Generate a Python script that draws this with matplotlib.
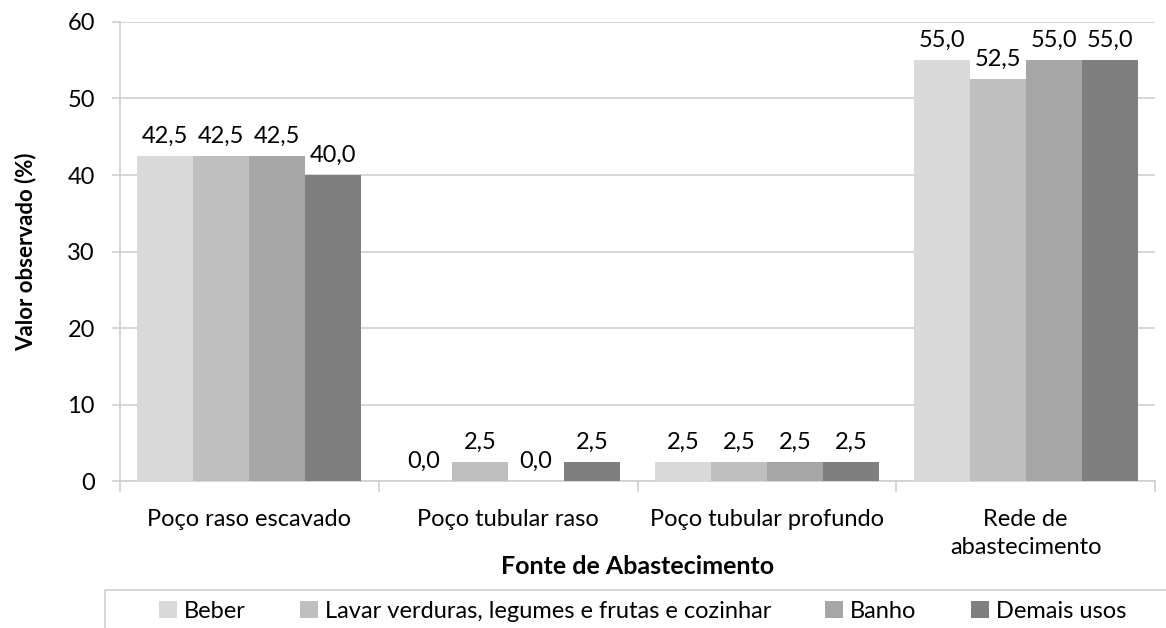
import numpy as np
import matplotlib.pyplot as plt
from matplotlib.patches import Rectangle

plt.rcParams['font.family'] = ['Lato', 'DejaVu Sans']

categories = ['Poço raso escavado', 'Poço tubular raso', 'Poço tubular profundo', 'Rede de\nabastecimento']
series_names = ['Beber', 'Lavar verduras, legumes e frutas e cozinhar', 'Banho', 'Demais usos']
beber = [42.5, 0.0, 2.5, 55.0]
lavar = [42.5, 2.5, 2.5, 52.5]
banho = [42.5, 0.0, 2.5, 55.0]
demais = [40.0, 2.5, 2.5, 55.0]
colors = ['#d9d9d9', '#bfbfbf', '#a6a6a6', '#7f7f7f']

series = [beber, lavar, banho, demais]
FS = 17
LINE = '#d0d0d0'

fig = plt.figure(figsize=(11.66, 6.28), dpi=100)
ax = fig.add_axes([0.1029, 0.234, 0.8877, 0.731])

x = np.arange(len(categories))
n = len(series)
width = 1 / (n + 0.62)
handles = []
for i, (vals, col, name) in enumerate(zip(series, colors, series_names)):
    pos = x + (i - (n - 1) / 2) * width
    bars = ax.bar(pos, vals, width=width, color=col, label=name, zorder=3)
    handles.append(bars.patches[0])
    for b, v in zip(bars, vals):
        ax.text(b.get_x() + b.get_width() / 2, v + 1.2, f'{v:.1f}'.replace('.', ','),
                ha='center', va='bottom', fontsize=FS, color='#000000')

ax.set_xlim(-0.5, len(categories) - 0.5)
ax.set_ylim(0, 60)
ax.set_yticks(range(0, 61, 10))
ax.yaxis.grid(True, color=LINE, linewidth=1.2, zorder=0)
ax.tick_params(axis='y', labelsize=FS, length=6, color=LINE, width=1.2, pad=12)
ax.set_xticks(x)
ax.set_xticklabels(categories, fontsize=FS, linespacing=1.45)
ax.tick_params(axis='x', length=0, pad=20)
ax.set_xticks(np.arange(-0.5, len(categories), 1), minor=True)
ax.tick_params(axis='x', which='minor', length=8, width=1.2, color=LINE)
for s in ['top', 'right']:
    ax.spines[s].set_visible(False)
for s in ['left', 'bottom']:
    ax.spines[s].set_color(LINE)
    ax.spines[s].set_linewidth(1.2)

ax.set_ylabel('Valor observado (%)', fontsize=FS - 1, fontweight='bold', labelpad=22)
ax.set_xlabel('Fonte de Abastecimento', fontsize=FS + 1, fontweight='bold')
ax.xaxis.set_label_coords(0.5, -0.162)

# legend frame (cut off at right and bottom edges)
fig.patches.append(Rectangle((105 / 1166, -0.05), 1.2, 1 - 590 / 628 + 0.05,
                             transform=fig.transFigure, fill=False,
                             edgecolor=LINE, linewidth=1.2))
fig.legend(handles=handles, labels=series_names, loc='center',
           bbox_to_anchor=(0.551, 1 - 611 / 628), ncol=4, frameon=False,
           fontsize=FS, handlelength=0.75, handleheight=0.75,
           handletextpad=0.3, columnspacing=2.3)

fig.savefig('out.png', dpi=100)
